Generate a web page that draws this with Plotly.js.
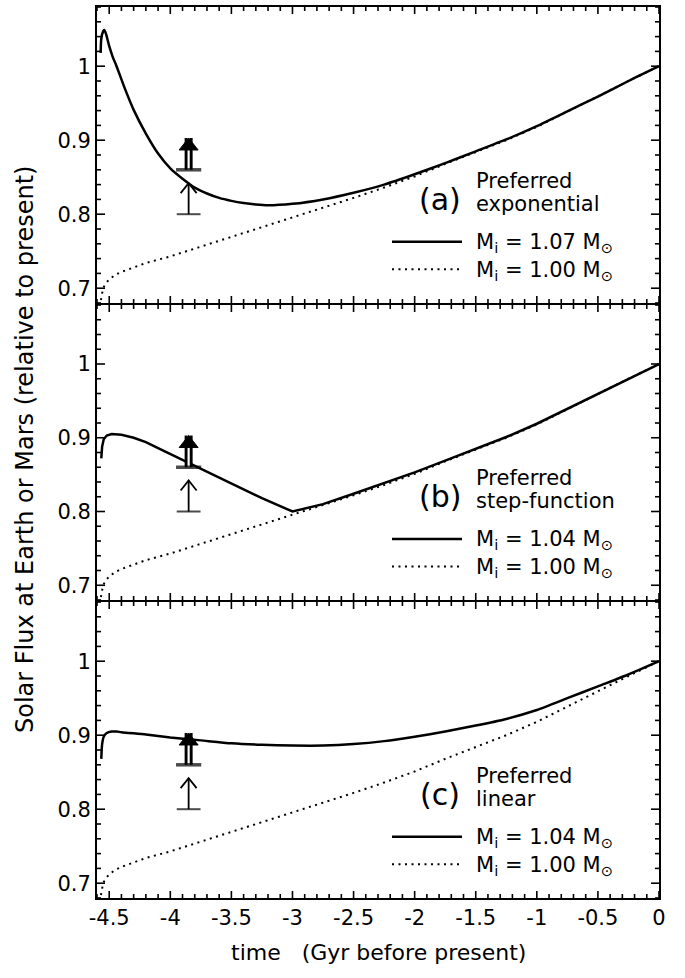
<!DOCTYPE html>
<html>
<head>
<meta charset="utf-8">
<script src="https://cdn.plot.ly/plotly-3.0.1.min.js"></script>
<style>html,body{margin:0;padding:0;background:#fff}</style>
</head>
<body>
<div id="chart" style="width:685px;height:978px"></div>
<script>
// ---------------- data ----------------
// time in Gyr before present
const tRef = [-4.568, -4.56, -4.55, -4.53, -4.5, -4.45, -4.4, -4.3, -4.2, -4.0, -3.75, -3.5, -3.25, -3.0, -2.75, -2.5, -2.25, -2.0, -1.75, -1.5, -1.25, -1.0, -0.75, -0.5, -0.25, 0];
// M_i = 1.00 M_sun (dotted, same in every panel)
const fRef = [0.684, 0.694, 0.700, 0.706, 0.712, 0.718, 0.722, 0.728, 0.734, 0.743, 0.756, 0.769, 0.782, 0.796, 0.808, 0.822, 0.836, 0.851, 0.868, 0.884, 0.900, 0.918, 0.939, 0.959, 0.980, 1.000];

// (a) preferred exponential, M_i = 1.07
const tA = [-4.57, -4.565, -4.55, -4.54, -4.525, -4.5, -4.47, -4.44, -4.37, -4.3, -4.2, -4.1, -4.0, -3.9, -3.8, -3.7, -3.6, -3.5, -3.4, -3.3, -3.2, -3.0, -2.75, -2.5, -2.25, -2.0, -1.75, -1.5, -1.25, -1.0, -0.75, -0.5, -0.25, 0];
const fA = [1.018, 1.037, 1.047, 1.049, 1.043, 1.027, 1.012, 1.000, 0.969, 0.941, 0.909, 0.882, 0.862, 0.848, 0.836, 0.828, 0.822, 0.818, 0.815, 0.813, 0.812, 0.814, 0.820, 0.829, 0.840, 0.854, 0.869, 0.885, 0.901, 0.919, 0.939, 0.959, 0.980, 1.000];

// (b) preferred step-function, M_i = 1.04
const tB = [-4.565, -4.558, -4.545, -4.52, -4.48, -4.44, -4.4, -4.3, -4.2, -4.1, -4.0, -3.75, -3.5, -3.25, -3.0, -2.75, -2.5, -2.25, -2.0, -1.75, -1.5, -1.25, -1.0, -0.75, -0.5, -0.25, 0];
const fB = [0.872, 0.888, 0.898, 0.903, 0.905, 0.905, 0.904, 0.900, 0.894, 0.886, 0.878, 0.857, 0.837, 0.818, 0.800, 0.810, 0.824, 0.838, 0.853, 0.869, 0.885, 0.901, 0.919, 0.939, 0.959, 0.980, 1.000];

// (c) preferred linear, M_i = 1.04
const tC = [-4.565, -4.558, -4.545, -4.52, -4.48, -4.44, -4.4, -4.2, -4.0, -3.75, -3.5, -3.25, -3.0, -2.75, -2.5, -2.25, -2.0, -1.75, -1.5, -1.25, -1.0, -0.75, -0.5, -0.25, 0];
const fC = [0.868, 0.888, 0.898, 0.903, 0.905, 0.905, 0.904, 0.901, 0.897, 0.893, 0.889, 0.887, 0.886, 0.886, 0.888, 0.892, 0.898, 0.905, 0.913, 0.922, 0.934, 0.950, 0.966, 0.982, 1.000];

// lower-limit constraints (arrows), same in every panel
const limitT = [-3.85];
const thinLow = [0.80], thinTip = [0.842];
const dblLow = [0.86], dblTip = [0.903];

const panelLetters = ['(a)', '(b)', '(c)'];
const panelModel1 = ['Preferred', 'Preferred', 'Preferred'];
const panelModel2 = ['exponential', 'step-function', 'linear'];
const panelMass = ['1.07', '1.04', '1.04'];
const refMass = '1.00';

const xTickVals = [-4.5, -4, -3.5, -3, -2.5, -2, -1.5, -1, -0.5, 0];
const xTickText = ['-4.5', '-4', '-3.5', '-3', '-2.5', '-2', '-1.5', '-1', '-0.5', '0'];
const yTickVals = [0.7, 0.8, 0.9, 1];
const yTickText = ['0.7', '0.8', '0.9', '1'];
const xRange = [-4.6, 0], yRange = [0.68, 1.08];
const xMinorStep = 0.1, yMinorStep = 0.02;
const xTitle = 'time\u00a0\u00a0\u00a0(Gyr before present)';
const yTitle = 'Solar Flux at Earth or Mars (relative to present)';

// ---------------- figure ----------------
const FONT = 'DejaVu Sans, Liberation Sans, Arial, sans-serif';
const W = 685, H = 978;
const M = {l: 97, r: 26, t: 7, b: 80};
const plotW = W - M.l - M.r, plotH = H - M.t - M.b;
const GAP = 2 / plotH;               // keeps neighbouring frame lines on top of each other
const domains = [[2/3 + GAP/2, 1], [1/3 + GAP/2, 2/3 - GAP/2], [0, 1/3 - GAP/2]];
const panelH = plotH * (1/3 - GAP/2);

const curves = [[tA, fA, 'spline'], [tB, fB, 'linear'], [tC, fC, 'spline']];
const sfx = ['', '2', '3'];

const traces = [];
const annotations = [];
const shapes = [];

// legend placement helpers (pixel positions measured inside panel (a))
const xd = px => (px - M.l) / plotW;
const yd = py => 1 - (py - M.t) / panelH;

// tick positions along the frame (major from the label arrays, minor every step)
function minorVals(range, step, majors) {
  const out = [];
  const n0 = Math.ceil(range[0] / step - 1e-6), n1 = Math.floor(range[1] / step + 1e-6);
  for (let k = n0; k <= n1; k++) {
    const v = +(k * step).toFixed(6);
    if (!majors.some(m => Math.abs(m - v) < 1e-6)) out.push(v);
  }
  return out;
}
const xMinor = minorVals(xRange, xMinorStep, xTickVals);
const yMinor = minorVals(yRange, yMinorStep, yTickVals);
const TICK = {xMaj: 7, xMin: 4, yMaj: 8, yMin: 4, w: 1.6};

function addTicks(xa, ya) {
  const xdom = xa + ' domain', ydom = ya + ' domain';
  const mk = (vals, len) => vals.forEach(v => {
    // bottom and top edge
    [[0, 1], [1, -1]].forEach(([anc, s]) => shapes.push({type: 'line', xref: xa, yref: ydom,
      ysizemode: 'pixel', yanchor: anc, x0: v, x1: v, y0: 0, y1: s * len,
      line: {color: '#000', width: TICK.w}, layer: 'above'}));
  });
  mk(xTickVals, TICK.xMaj); mk(xMinor, TICK.xMin);
  const mky = (vals, len) => vals.forEach(v => {
    [[0, 1], [1, -1]].forEach(([anc, s]) => shapes.push({type: 'line', xref: xdom, yref: ya,
      xsizemode: 'pixel', xanchor: anc, y0: v, y1: v, x0: 0, x1: s * len,
      line: {color: '#000', width: TICK.w}, layer: 'above'}));
  });
  mky(yTickVals, TICK.yMaj); mky(yMinor, TICK.yMin);
}

for (let i = 0; i < 3; i++) {
  const xa = 'x' + sfx[i], ya = 'y' + sfx[i];
  const [tt, ff, shp] = curves[i];
  traces.push({x: tRef, y: fRef, xaxis: xa, yaxis: ya, mode: 'lines', type: 'scatter',
    line: {color: '#000', width: 2, dash: '2px,4.5px'}, hoverinfo: 'skip', showlegend: false});
  traces.push({x: tt, y: ff, xaxis: xa, yaxis: ya, mode: 'lines', type: 'scatter',
    line: {color: '#000', width: 2.5, shape: shp, smoothing: 0.6}, hoverinfo: 'skip', showlegend: false});

  // thin lower-limit arrow: shaft
  traces.push({x: limitT.concat(limitT), y: thinLow.concat(thinTip), xaxis: xa, yaxis: ya,
    mode: 'lines', type: 'scatter', line: {color: '#000', width: 1.8}, hoverinfo: 'skip', showlegend: false});
  // double lower-limit arrow: thick shaft with a white slit
  traces.push({x: limitT.concat(limitT), y: dblLow.concat(dblTip), xaxis: xa, yaxis: ya,
    mode: 'lines', type: 'scatter', line: {color: '#000', width: 8}, hoverinfo: 'skip', showlegend: false});
  traces.push({x: limitT.concat(limitT), y: dblLow.concat(dblTip), xaxis: xa, yaxis: ya,
    mode: 'lines', type: 'scatter', line: {color: '#fff', width: 2.2}, hoverinfo: 'skip', showlegend: false});
  // base bars
  traces.push({x: limitT.concat(limitT), y: thinLow.concat(dblLow), xaxis: xa, yaxis: ya,
    mode: 'markers', type: 'scatter', hoverinfo: 'skip', showlegend: false,
    marker: {symbol: 'line-ew', size: [17, 18], color: '#000', line: {color: '#000', width: [2, 3.5]}}});

  // arrow heads anchored at the tips (pixel-sized glyphs)
  shapes.push({type: 'path', xref: xa, yref: ya, xsizemode: 'pixel', ysizemode: 'pixel',
    xanchor: limitT[0], yanchor: thinTip[0], path: 'M-8,-10L0,0L8,-10',
    line: {color: '#000', width: 1.8}, layer: 'above'});
  shapes.push({type: 'path', xref: xa, yref: ya, xsizemode: 'pixel', ysizemode: 'pixel',
    xanchor: limitT[0], yanchor: dblTip[0], path: 'M-9.5,-12L0,0L9.5,-12Z',
    fillcolor: '#000', line: {color: '#000', width: 1}, layer: 'above'});

  // legend block
  const dxr = xa + ' domain', dyr = ya + ' domain';
  annotations.push({xref: dxr, yref: dyr, x: xd(440), y: yd(199), xanchor: 'center', yanchor: 'middle',
    text: panelLetters[i], showarrow: false, font: {family: FONT, size: 30, color: '#000'}});
  annotations.push({xref: dxr, yref: dyr, x: xd(474), y: yd(181), xanchor: 'left', yanchor: 'middle',
    text: panelModel1[i], showarrow: false, font: {family: FONT, size: 21, color: '#000'}});
  annotations.push({xref: dxr, yref: dyr, x: xd(474), y: yd(204), xanchor: 'left', yanchor: 'middle',
    text: panelModel2[i], showarrow: false, font: {family: FONT, size: 21, color: '#000'}});
  annotations.push({xref: dxr, yref: dyr, x: xd(474), y: yd(243), xanchor: 'left', yanchor: 'middle',
    text: 'M<sub>i</sub> = ' + panelMass[i] + ' M<sub>\u2299</sub>', showarrow: false,
    font: {family: FONT, size: 21, color: '#000'}});
  annotations.push({xref: dxr, yref: dyr, x: xd(474), y: yd(271), xanchor: 'left', yanchor: 'middle',
    text: 'M<sub>i</sub> = ' + refMass + ' M<sub>\u2299</sub>', showarrow: false,
    font: {family: FONT, size: 21, color: '#000'}});
  shapes.push({type: 'line', xref: dxr, yref: dyr, x0: xd(392), x1: xd(462), y0: yd(241.7), y1: yd(241.7),
    line: {color: '#000', width: 2.5}});
  shapes.push({type: 'line', xref: dxr, yref: dyr, x0: xd(392), x1: xd(462), y0: yd(269.3), y1: yd(269.3),
    line: {color: '#000', width: 2, dash: '2px,4.5px'}});

  addTicks(xa, ya);
}

// axis titles
annotations.push({xref: 'paper', yref: 'paper', x: 0.5, y: -(952 - M.t - plotH) / plotH,
  xanchor: 'center', yanchor: 'middle', text: xTitle, showarrow: false,
  font: {family: FONT, size: 22, color: '#000'}});
annotations.push({xref: 'paper', yref: 'paper', x: (25 - M.l) / plotW, y: 1 - (450 - M.t) / plotH, textangle: -90,
  xanchor: 'center', yanchor: 'middle', text: yTitle, showarrow: false,
  font: {family: FONT, size: 24, color: '#000'}});

function xAxis(anchor, labels) {
  return {anchor: anchor, domain: [0, 1], range: xRange, tickmode: 'array',
    tickvals: xTickVals, ticktext: xTickText, showticklabels: labels, ticks: '',
    showline: true, linecolor: '#000', linewidth: 2, mirror: true,
    showgrid: false, zeroline: false, fixedrange: true,
    tickfont: {family: FONT, size: 21, color: '#000'}};
}
function yAxis(anchor, dom) {
  return {anchor: anchor, domain: dom, range: yRange, tickmode: 'array',
    tickvals: yTickVals, ticktext: yTickText, ticks: '',
    showline: true, linecolor: '#000', linewidth: 2, mirror: true,
    showgrid: false, zeroline: false, fixedrange: true,
    tickfont: {family: FONT, size: 21, color: '#000'}};
}

const layout = {
  width: W, height: H, margin: M, paper_bgcolor: '#fff', plot_bgcolor: '#fff',
  showlegend: false, font: {family: FONT, size: 21, color: '#000'},
  xaxis: xAxis('y', false), xaxis2: xAxis('y2', false), xaxis3: xAxis('y3', true),
  yaxis: yAxis('x', domains[0]), yaxis2: yAxis('x2', domains[1]), yaxis3: yAxis('x3', domains[2]),
  annotations: annotations, shapes: shapes
};

Plotly.newPlot('chart', traces, layout, {staticPlot: true, displayModeBar: false});
</script>
</body>
</html>
